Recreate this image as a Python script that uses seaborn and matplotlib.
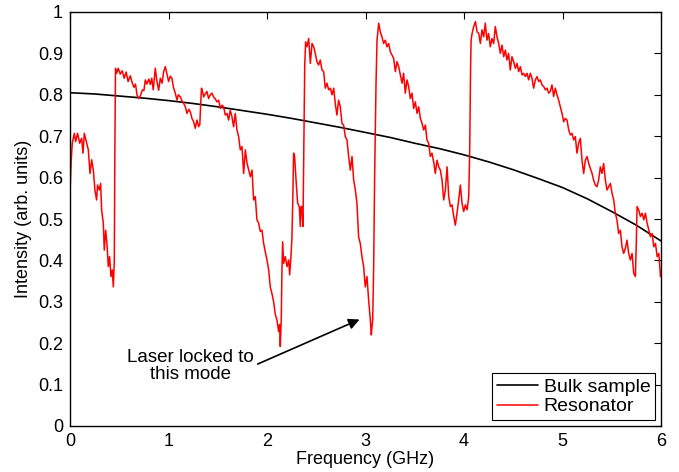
import matplotlib
matplotlib.use("Agg")
import matplotlib.pyplot as plt
import seaborn as sns
import pandas as pd
from matplotlib.ticker import FormatStrFormatter

# ---------------- data ----------------
bulk_freq = [0.0, 0.25, 0.5, 0.75, 1.0, 1.25, 1.5, 1.75, 2.0, 2.25, 2.5, 2.75, 3.0,
             3.25, 3.5, 3.75, 4.0, 4.25, 4.5, 4.75, 5.0, 5.25, 5.5, 5.75, 6.0]
bulk_int = [0.805, 0.802, 0.797, 0.792, 0.786, 0.779, 0.771, 0.762, 0.753, 0.743,
            0.732, 0.721, 0.709, 0.697, 0.683, 0.670, 0.655, 0.638, 0.619, 0.598,
            0.576, 0.549, 0.518, 0.485, 0.447]

res_freq = [
    0.000, 0.012, 0.023, 0.044, 0.057, 0.077, 0.098, 0.118, 0.132, 0.145, 0.169, 0.186,
    0.203, 0.220, 0.237, 0.253, 0.270, 0.280, 0.297, 0.311, 0.321, 0.338, 0.348, 0.362,
    0.375, 0.389, 0.402, 0.416, 0.429, 0.440, 0.450, 0.455, 0.462,
    0.473, 0.490, 0.510, 0.530, 0.550, 0.570, 0.590, 0.612, 0.630, 0.650, 0.665, 0.680,
    0.697, 0.715, 0.735, 0.750, 0.765, 0.780, 0.800, 0.815, 0.830, 0.845, 0.866, 0.880,
    0.900, 0.917, 0.935, 0.950, 0.968, 0.985, 1.001, 1.018, 1.035, 1.050, 1.069, 1.086,
    1.100, 1.120, 1.137, 1.154, 1.171, 1.188, 1.205, 1.221, 1.238, 1.255, 1.272, 1.289,
    1.306, 1.318, 1.325, 1.335, 1.345, 1.357, 1.373, 1.390, 1.407, 1.424, 1.441, 1.458,
    1.475, 1.492, 1.509, 1.526, 1.543, 1.560, 1.577, 1.594, 1.610, 1.627, 1.644, 1.661,
    1.678, 1.695, 1.712, 1.729, 1.746, 1.763, 1.780, 1.797, 1.814, 1.831, 1.848, 1.864,
    1.881, 1.898, 1.915, 1.932, 1.949, 1.966, 1.983, 2.000, 2.017, 2.034, 2.050, 2.067,
    2.084, 2.101, 2.118, 2.128, 2.135,
    2.145, 2.152, 2.159, 2.169, 2.186, 2.203, 2.220, 2.230, 2.243, 2.253, 2.262, 2.270,
    2.280, 2.297, 2.311, 2.328, 2.338, 2.346, 2.355, 2.365, 2.375, 2.383, 2.392, 2.406,
    2.423, 2.440, 2.457, 2.474, 2.490, 2.507, 2.524, 2.541, 2.558, 2.575, 2.592, 2.609,
    2.626, 2.643, 2.660, 2.677, 2.693, 2.710, 2.727, 2.744, 2.761, 2.778, 2.795, 2.812,
    2.829, 2.846, 2.863, 2.880, 2.897, 2.913, 2.930, 2.947, 2.964, 2.981, 2.998, 3.015,
    3.032, 3.049, 3.059, 3.066, 3.073, 3.083, 3.093, 3.107, 3.117, 3.134, 3.150, 3.167,
    3.184, 3.201, 3.218, 3.235, 3.252, 3.269, 3.286, 3.303, 3.320, 3.337, 3.354, 3.371,
    3.387, 3.404, 3.421, 3.438, 3.455, 3.472, 3.489, 3.506, 3.523, 3.540, 3.557, 3.574,
    3.591, 3.608, 3.624, 3.641, 3.658, 3.675, 3.692, 3.709, 3.726, 3.743, 3.760, 3.777,
    3.794, 3.811, 3.828, 3.845, 3.862, 3.879, 3.896, 3.912, 3.929, 3.946, 3.963, 3.980,
    3.997, 4.014, 4.031, 4.048, 4.058, 4.066, 4.072, 4.082, 4.099, 4.116, 4.133, 4.150,
    4.166, 4.183, 4.200, 4.216, 4.233, 4.250, 4.267, 4.284, 4.301, 4.318, 4.335, 4.352,
    4.369, 4.386, 4.403, 4.420, 4.436, 4.453, 4.470, 4.487, 4.504, 4.521, 4.538, 4.555,
    4.572, 4.589, 4.606, 4.623, 4.640, 4.656, 4.673, 4.690, 4.707, 4.724, 4.741, 4.758,
    4.775, 4.792, 4.809, 4.826, 4.843, 4.860, 4.876, 4.893, 4.910, 4.927, 4.944, 4.961,
    4.978, 4.995, 5.012, 5.029, 5.046, 5.063, 5.080, 5.096, 5.113, 5.130, 5.147, 5.164,
    5.181, 5.198, 5.215, 5.232, 5.249, 5.266, 5.283, 5.300, 5.316, 5.333, 5.350, 5.367,
    5.384, 5.401, 5.418, 5.435, 5.452, 5.469, 5.486, 5.503, 5.520, 5.536, 5.553, 5.570,
    5.587, 5.604, 5.621, 5.638, 5.655, 5.672, 5.689, 5.706, 5.723, 5.740, 5.750, 5.757,
    5.774, 5.791, 5.808, 5.825, 5.842, 5.859, 5.876, 5.893, 5.910, 5.927, 5.944, 5.961,
    5.978, 5.995, 6.000,
]
res_int = [
    0.560, 0.640, 0.683, 0.707, 0.687, 0.707, 0.683, 0.695, 0.659, 0.707, 0.683, 0.667,
    0.610, 0.643, 0.618, 0.570, 0.546, 0.582, 0.570, 0.586, 0.522, 0.490, 0.425, 0.473,
    0.441, 0.385, 0.409, 0.361, 0.377, 0.336, 0.400, 0.650, 0.864,
    0.852, 0.864, 0.850, 0.858, 0.840, 0.855, 0.832, 0.846, 0.830, 0.818, 0.826, 0.800,
    0.791, 0.798, 0.812, 0.810, 0.836, 0.826, 0.838, 0.825, 0.840, 0.812, 0.864, 0.836,
    0.811, 0.840, 0.828, 0.855, 0.868, 0.850, 0.832, 0.845, 0.840, 0.818, 0.804, 0.787,
    0.800, 0.795, 0.785, 0.779, 0.771, 0.755, 0.765, 0.759, 0.743, 0.735, 0.719, 0.739,
    0.723, 0.728, 0.770, 0.816, 0.808, 0.795, 0.802, 0.808, 0.791, 0.800, 0.804, 0.795,
    0.790, 0.783, 0.787, 0.767, 0.775, 0.771, 0.751, 0.755, 0.739, 0.763, 0.747, 0.723,
    0.755, 0.715, 0.699, 0.667, 0.675, 0.610, 0.667, 0.635, 0.618, 0.602, 0.618, 0.546,
    0.554, 0.498, 0.490, 0.470, 0.473, 0.441, 0.420, 0.401, 0.377, 0.335, 0.320, 0.300,
    0.270, 0.256, 0.228, 0.245, 0.192,
    0.260, 0.380, 0.445, 0.393, 0.409, 0.385, 0.401, 0.365, 0.409, 0.453, 0.550, 0.659,
    0.651, 0.586, 0.538, 0.530, 0.482, 0.530, 0.530, 0.482, 0.700, 0.870, 0.928, 0.916,
    0.936, 0.876, 0.924, 0.916, 0.900, 0.880, 0.872, 0.884, 0.860, 0.856, 0.816, 0.828,
    0.812, 0.816, 0.800, 0.816, 0.779, 0.751, 0.787, 0.771, 0.731, 0.727, 0.699, 0.691,
    0.651, 0.618, 0.651, 0.594, 0.570, 0.538, 0.457, 0.441, 0.409, 0.385, 0.336, 0.361,
    0.304, 0.256, 0.220, 0.240, 0.256, 0.385, 0.608, 0.830, 0.932, 0.973, 0.952, 0.940,
    0.924, 0.932, 0.916, 0.924, 0.904, 0.896, 0.888, 0.856, 0.880, 0.868, 0.848, 0.828,
    0.852, 0.804, 0.836, 0.820, 0.791, 0.804, 0.767, 0.783, 0.755, 0.771, 0.743, 0.731,
    0.715, 0.727, 0.691, 0.683, 0.651, 0.659, 0.638, 0.610, 0.642, 0.626, 0.618, 0.594,
    0.546, 0.570, 0.626, 0.554, 0.530, 0.534, 0.506, 0.485, 0.514, 0.546, 0.582, 0.538,
    0.518, 0.534, 0.522, 0.554, 0.667, 0.850, 0.932, 0.948, 0.965, 0.977, 0.952, 0.948,
    0.924, 0.957, 0.940, 0.973, 0.932, 0.948, 0.916, 0.936, 0.924, 0.965, 0.940, 0.924,
    0.900, 0.920, 0.892, 0.908, 0.884, 0.900, 0.860, 0.892, 0.880, 0.864, 0.876, 0.856,
    0.868, 0.848, 0.852, 0.844, 0.852, 0.836, 0.852, 0.840, 0.816, 0.836, 0.844, 0.832,
    0.836, 0.824, 0.820, 0.812, 0.816, 0.804, 0.808, 0.824, 0.796, 0.816, 0.800, 0.787,
    0.771, 0.755, 0.735, 0.743, 0.739, 0.715, 0.703, 0.707, 0.691, 0.699, 0.659, 0.683,
    0.695, 0.642, 0.610, 0.642, 0.651, 0.634, 0.622, 0.610, 0.594, 0.582, 0.578, 0.594,
    0.626, 0.610, 0.634, 0.594, 0.570, 0.578, 0.586, 0.562, 0.546, 0.514, 0.498, 0.465,
    0.473, 0.433, 0.417, 0.429, 0.449, 0.417, 0.401, 0.417, 0.369, 0.361, 0.450, 0.530,
    0.522, 0.506, 0.514, 0.498, 0.514, 0.490, 0.473, 0.457, 0.465, 0.433, 0.441, 0.409,
    0.417, 0.361, 0.370,
]

x_ticks = [0, 1, 2, 3, 4, 5, 6]
y_ticks = [0, 0.1, 0.2, 0.3, 0.4, 0.5, 0.6, 0.7, 0.8, 0.9, 1.0]
x_label = "Frequency (GHz)"
y_label = "Intensity (arb. units)"
annot_text = "Laser locked to\nthis mode"
annot_text_pos = (1.22, 0.145)
annot_tail = (1.88, 0.147)
annot_head = (2.965, 0.26)

# ---------------- style ----------------
sns.set_theme(style="white")
plt.rcParams["font.family"] = ["Liberation Sans", "DejaVu Sans"]
plt.rcParams["text.color"] = "black"
plt.rcParams["axes.labelcolor"] = "black"
FS = 13

bulk_df = pd.DataFrame({"freq": bulk_freq, "intensity": bulk_int})
res_df = pd.DataFrame({"freq": res_freq, "intensity": res_int})

fig = plt.figure(figsize=(6.79, 4.72), dpi=100)
ax = fig.add_axes([70 / 679, 1 - 426 / 472, (661 - 70) / 679, (426 - 12) / 472])

sns.lineplot(data=bulk_df, x="freq", y="intensity", ax=ax, color="black",
             lw=1.2, sort=False, estimator=None, label="Bulk sample")
sns.lineplot(data=res_df, x="freq", y="intensity", ax=ax, color="#ff0000",
             lw=1.1, sort=False, estimator=None, label="Resonator")

ax.set_xlim(0, 6)
ax.set_ylim(0, 1)
ax.set_xticks(x_ticks)
ax.set_yticks(y_ticks)
ax.yaxis.set_major_formatter(FormatStrFormatter("%g"))
ax.tick_params(direction="in", length=5, width=0.8, top=True, right=True,
               labelsize=FS, colors="black", pad=5)
for s in ax.spines.values():
    s.set_color("black")
    s.set_linewidth(1.0)

ax.set_xlabel(x_label, fontsize=FS, labelpad=1, color="black")
ax.set_ylabel(y_label, fontsize=FS, labelpad=4, color="black")

ax.text(annot_text_pos[0], annot_text_pos[1], annot_text, ha="center", va="center",
        fontsize=13.5, multialignment="center", linespacing=1.0, color="black")
ax.annotate("", xy=annot_head, xytext=annot_tail,
            arrowprops=dict(arrowstyle="-|>", color="black", lw=1.2, mutation_scale=16))

leg = ax.legend(loc="lower right", fontsize=14, frameon=True, fancybox=False,
                edgecolor="black", framealpha=1, borderpad=0.25, labelspacing=0.1,
                handlelength=2.1, handletextpad=0.3, borderaxespad=0.3)
leg.get_frame().set_linewidth(0.8)
for t in leg.get_texts():
    t.set_color("black")

fig.savefig("out.png", dpi=100)
